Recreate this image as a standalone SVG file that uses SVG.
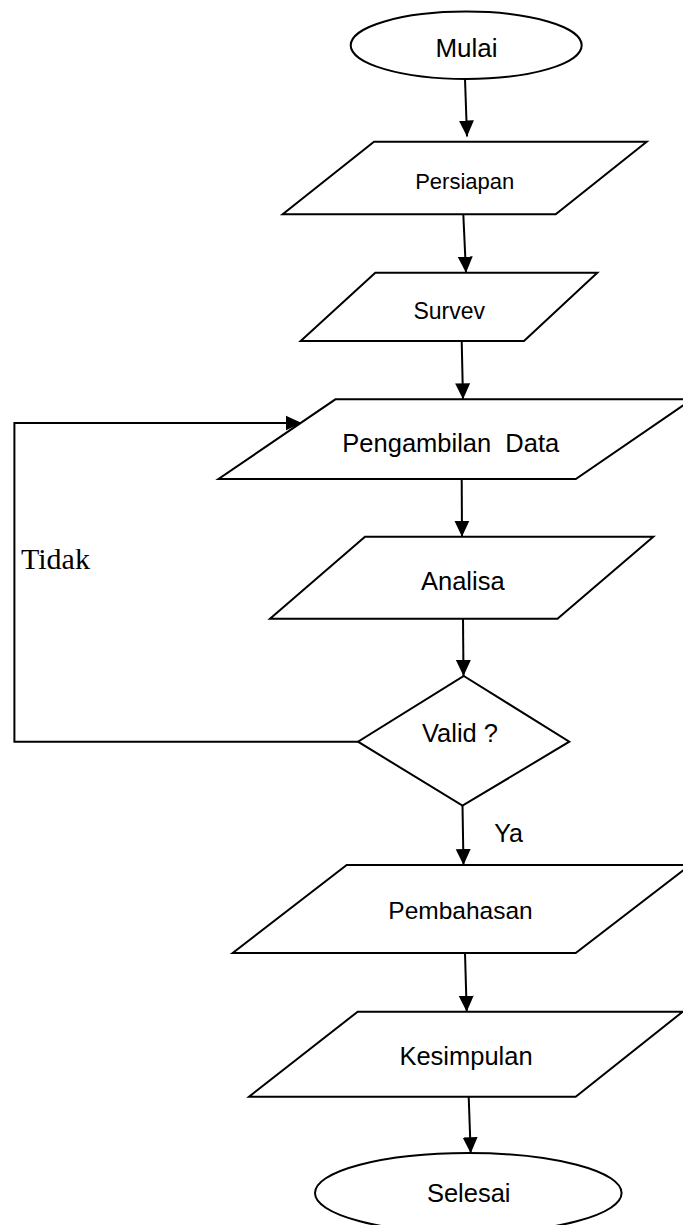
<svg xmlns="http://www.w3.org/2000/svg" width="683" height="1225" viewBox="0 0 683 1225">
<style>
.shape{fill:#fff;stroke:#000;stroke-width:2;stroke-linejoin:miter}
.conn{fill:none;stroke:#000;stroke-width:2}
.lbl{font-family:"Liberation Sans",Arial,sans-serif;fill:#000;text-anchor:middle;white-space:pre}
.serif{font-family:"Liberation Serif","Times New Roman",serif;fill:#000}
</style>
<defs>
<marker id="arr" markerUnits="userSpaceOnUse" markerWidth="16" markerHeight="16" refX="16" refY="8" orient="auto">
<path d="M0,0.5 L16,8 L0,15.5 z" fill="#000"/>
</marker>
</defs>
<rect width="683" height="1225" fill="#fff"/>
<g id="connectors">
<path class="conn" d="M465,79 L467,136.5" marker-end="url(#arr)"/>
<path class="conn" d="M463.3,214.3 L466,272.7" marker-end="url(#arr)"/>
<path class="conn" d="M461.7,341 L463,399.3" marker-end="url(#arr)"/>
<path class="conn" d="M461.7,479 L462,536.7" marker-end="url(#arr)"/>
<path class="conn" d="M463,618.7 L463.5,676" marker-end="url(#arr)"/>
<path class="conn" d="M462.5,805.7 L463.5,865" marker-end="url(#arr)"/>
<path class="conn" d="M465,953 L466.7,1011.7" marker-end="url(#arr)"/>
<path class="conn" d="M468.7,1096.7 L470.7,1153.3" marker-end="url(#arr)"/>
<path class="conn" d="M358,741.7 L14.4,741.7 L14.4,423 L301.7,423" marker-end="url(#arr)"/>
<text class="serif" x="21" y="568.5" font-size="30">Tidak</text>
<text class="lbl" x="494.3" y="841.7" font-size="25" style="text-anchor:start">Ya</text>
</g>
<g id="mulai">
<ellipse class="shape" cx="466.2" cy="45.3" rx="115.5" ry="33.7"/>
<text class="lbl" x="466.5" y="57" font-size="26">Mulai</text>
</g>
<g id="persiapan">
<polygon class="shape" points="374,141.7 646.7,141.7 555.7,214.3 282.7,214.3"/>
<text class="lbl" x="464.7" y="189" font-size="22">Persiapan</text>
</g>
<g id="survev">
<polygon class="shape" points="375.3,272.7 597.3,272.7 524,341 300.7,341"/>
<text class="lbl" x="449.2" y="319" font-size="23">Survev</text>
</g>
<g id="pengambilan">
<polygon class="shape" points="335.4,399.3 692,399.3 575.8,479 218.5,479"/>
<text class="lbl" x="450.8" y="451.7" font-size="25.5">Pengambilan  Data</text>
</g>
<g id="analisa">
<polygon class="shape" points="365,536.7 653.3,536.7 557.5,618.7 270,618.7"/>
<text class="lbl" x="462.8" y="590" font-size="25.5">Analisa</text>
</g>
<g id="valid">
<polygon class="shape" points="463.8,676 569.3,741.7 462.5,805.7 358,741.7"/>
<text class="lbl" x="460" y="741.7" font-size="25.5">Valid ?</text>
</g>
<g id="pembahasan">
<polygon class="shape" points="346.7,865 690,865 575.7,953 232.7,953"/>
<text class="lbl" x="460.5" y="919" font-size="24.5">Pembahasan</text>
</g>
<g id="kesimpulan">
<polygon class="shape" points="357.7,1011.7 682.7,1011.7 575.7,1096.7 249,1096.7"/>
<text class="lbl" x="466" y="1065" font-size="25.5">Kesimpulan</text>
</g>
<g id="selesai">
<ellipse class="shape" cx="468.3" cy="1193" rx="153.3" ry="40"/>
<text class="lbl" x="468.7" y="1201.7" font-size="25.5">Selesai</text>
</g>
</svg>
